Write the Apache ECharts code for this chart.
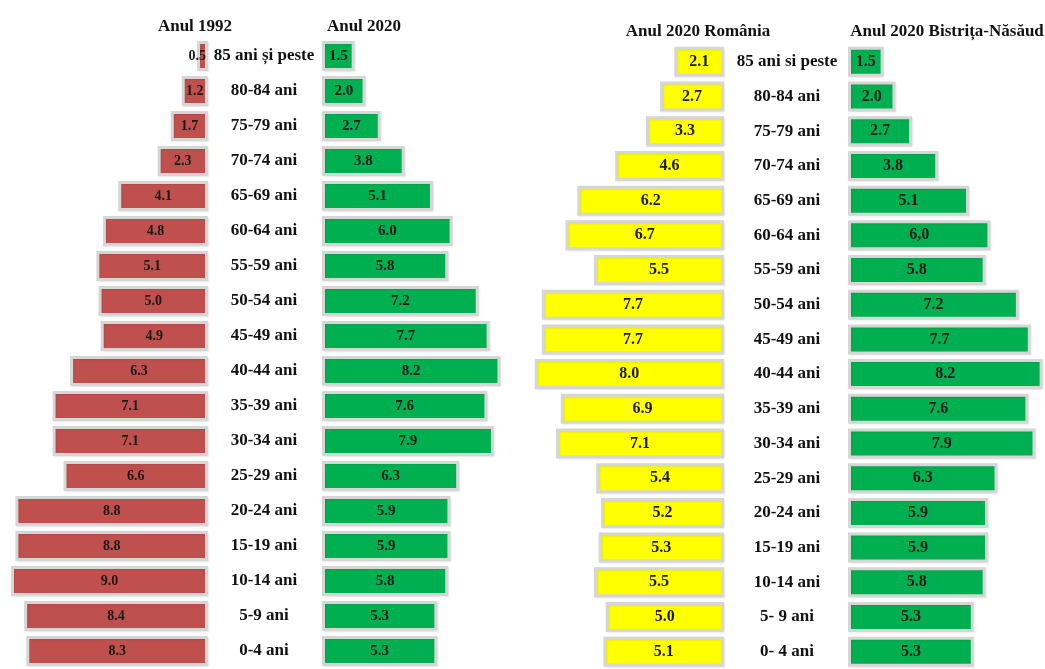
<!DOCTYPE html>
<html>
<head>
<meta charset="utf-8">
<script src="https://cdn.jsdelivr.net/npm/echarts@6/dist/echarts.min.js"></script>
<style>html,body{margin:0;padding:0;background:#fff;}#c{width:1045px;height:669px;}</style>
</head>
<body>
<div id="c"></div>
<script>
// Categories (top to bottom)
const catsLeft = ['85 ani și peste','80-84 ani','75-79 ani','70-74 ani','65-69 ani','60-64 ani','55-59 ani','50-54 ani','45-49 ani','40-44 ani','35-39 ani','30-34 ani','25-29 ani','20-24 ani','15-19 ani','10-14 ani','5-9 ani','0-4 ani'];
const catsRight = ['85 ani si peste','80-84 ani','75-79 ani','70-74 ani','65-69 ani','60-64 ani','55-59 ani','50-54 ani','45-49 ani','40-44 ani','35-39 ani','30-34 ani','25-29 ani','20-24 ani','15-19 ani','10-14 ani','5- 9 ani','0- 4 ani'];
// Values (%)
const an1992 = [0.5,1.2,1.7,2.3,4.1,4.8,5.1,5.0,4.9,6.3,7.1,7.1,6.6,8.8,8.8,9.0,8.4,8.3];
const an2020 = [1.5,2.0,2.7,3.8,5.1,6.0,5.8,7.2,7.7,8.2,7.6,7.9,6.3,5.9,5.9,5.8,5.3,5.3];
const romania2020 = [2.1,2.7,3.3,4.6,6.2,6.7,5.5,7.7,7.7,8.0,6.9,7.1,5.4,5.2,5.3,5.5,5.0,5.1];
const bistrita2020 = [1.5,2.0,2.7,3.8,5.1,6.0,5.8,7.2,7.7,8.2,7.6,7.9,6.3,5.9,5.9,5.8,5.3,5.3];
const bistritaLabels = ['1.5','2.0','2.7','3.8','5.1','6,0','5.8','7.2','7.7','8.2','7.6','7.9','6.3','5.9','5.9','5.8','5.3','5.3'];
// Titles
const titles = ['Anul 1992','Anul 2020','Anul 2020 România','Anul 2020 Bistrița-Năsăud'];

const FONT = '"Liberation Serif", "Times New Roman", serif';
const chart = echarts.init(document.getElementById('c'));

const grids = [
  {left: 11, width: 197, top: 38.5, height: 630},
  {left: 322, width: 185, top: 38.5, height: 630},
  {left: 530, width: 194, top: 44.5, height: 630},
  {left: 848, width: 197, top: 44.5, height: 630}
];
const maxes = [9.0, 8.5, 8.2, 8.3];
const inverseX = [true, false, true, false];
const cats = [catsLeft, catsLeft, catsRight, catsRight];
const showCat = [false, true, false, true];
const catMargin = [0, 58, 0, 61];
const colors = ['#c0504d', '#00b050', '#ffff00', '#00b050'];
const datas = [an1992, an2020, romania2020, bistrita2020];
const lblSize = [14, 15, 16, 16];

const option = {
  animation: false,
  backgroundColor: '#fff',
  title: [
    {text: titles[0], left: 190, top: 13, textAlign: 'center'},
    {text: titles[1], left: 359, top: 13, textAlign: 'center'},
    {text: titles[2], left: 693, top: 18, textAlign: 'center'},
    {text: titles[3], left: 942, top: 18, textAlign: 'center'}
  ].map(t => Object.assign(t, {textStyle: {fontFamily: FONT, fontWeight: 'bold', fontSize: 17, color: '#111'}})),
  grid: grids,
  xAxis: grids.map((g, i) => ({
    type: 'value', gridIndex: i, min: 0, max: maxes[i], inverse: inverseX[i], show: false
  })),
  yAxis: grids.map((g, i) => ({
    type: 'category', gridIndex: i, data: cats[i], inverse: true,
    axisLine: {show: false}, axisTick: {show: false}, splitLine: {show: false},
    axisLabel: {show: showCat[i], margin: catMargin[i], align: 'center',
      fontFamily: FONT, fontWeight: 'bold', fontSize: 17, color: '#111'}
  })),
  series: datas.map((d, i) => ({
    type: 'bar', xAxisIndex: i, yAxisIndex: i, data: d, barWidth: 30,
    itemStyle: {color: colors[i], borderColor: '#d6d6d6', borderWidth: 3,
      shadowColor: 'rgba(0,0,0,0.08)', shadowBlur: 2, shadowOffsetX: 1, shadowOffsetY: 1},
    label: {show: true, position: 'inside', fontFamily: FONT, fontWeight: 'bold',
      fontSize: lblSize[i], color: '#1a1a1a',
      formatter: p => i === 3 ? bistritaLabels[p.dataIndex] : p.value.toFixed(1)},
    labelLayout: p => (p.rect.width < 20
      ? {x: p.rect.x + p.rect.width - 2, y: p.rect.y + p.rect.height / 2, align: 'right', verticalAlign: 'middle'}
      : {})
  }))
};
chart.setOption(option);
</script>
</body>
</html>
